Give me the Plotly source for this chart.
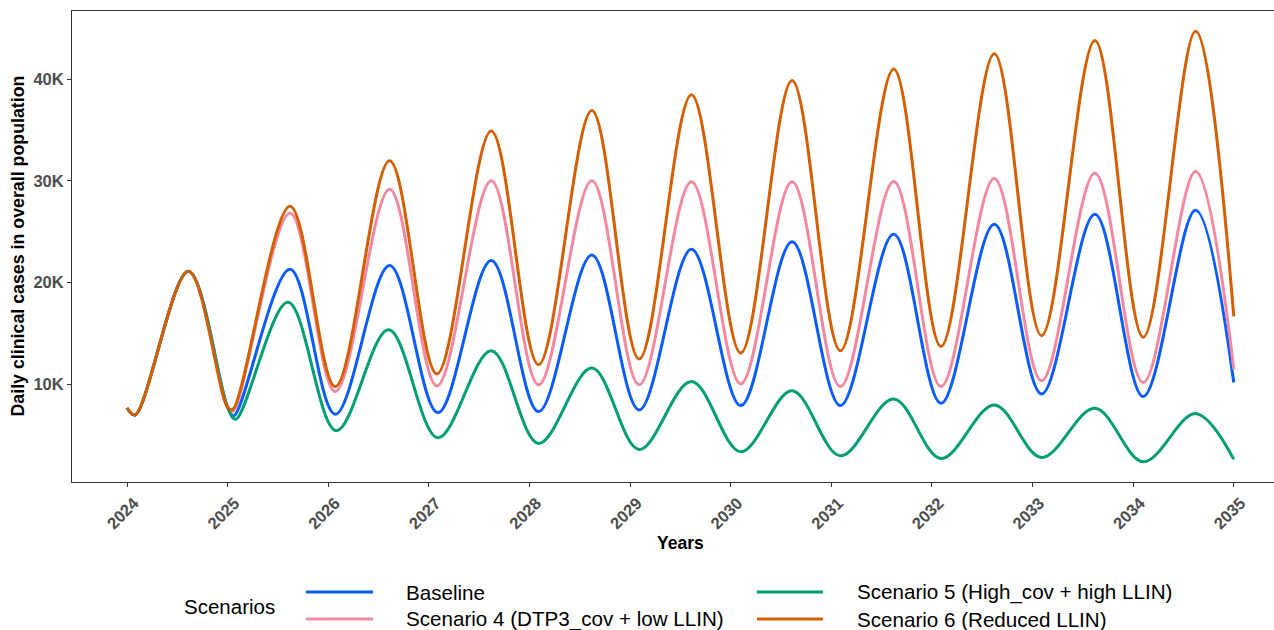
import plotly.graph_objects as go

# ---------------- data ----------------
shared_x = [2024.0, 2024.08, 2024.61, 2025.0]
shared_y = [7650, 6960, 21100, 7700]

baseline_x = [2025.06, 2025.62, 2026.07, 2026.61, 2027.09, 2027.62, 2028.09, 2028.62,
              2029.09, 2029.61, 2030.10, 2030.61, 2031.09, 2031.62, 2032.09, 2032.62,
              2033.09, 2033.62, 2034.10, 2034.62, 2035.0]
baseline_y = [6860, 21300, 7030, 21670, 7190, 22160, 7290, 22690, 7450, 23250, 7880, 24000,
              7880, 24730, 8110, 25720, 9030, 26700, 8770, 27100, 10150]

s4_x = [2025.05, 2025.62, 2026.07, 2026.61, 2027.08, 2027.62, 2028.09, 2028.62,
        2029.09, 2029.61, 2030.10, 2030.61, 2031.09, 2031.62, 2032.09, 2032.62,
        2033.09, 2033.62, 2034.10, 2034.62, 2035.0]
s4_y = [7300, 26800, 9260, 29170, 9820, 29990, 9920, 29990, 9920, 29900, 10020, 29900,
        9760, 29930, 9760, 30230, 10320, 30750, 10150, 30900, 11470]

s5_x = [2025.08, 2025.60, 2026.08, 2026.60, 2027.09, 2027.62, 2028.09, 2028.62,
        2029.09, 2029.61, 2030.10, 2030.61, 2031.09, 2031.62, 2032.09, 2032.62,
        2033.09, 2033.62, 2034.10, 2034.62, 2035.0]
s5_y = [6530, 18050, 5410, 15350, 4720, 13280, 4160, 11570, 3570, 10250, 3340, 9330,
        2940, 8540, 2680, 7950, 2780, 7620, 2350, 7100, 2590]

s6_x = [2025.05, 2025.62, 2026.07, 2026.61, 2027.08, 2027.62, 2028.09, 2028.62,
        2029.09, 2029.61, 2030.10, 2030.61, 2031.09, 2031.62, 2032.09, 2032.62,
        2033.09, 2033.62, 2034.10, 2034.62, 2035.0]
s6_y = [7500, 27500, 9750, 31960, 11000, 34900, 11900, 36900, 12460, 38450, 13050, 39860,
        13280, 41000, 13700, 42500, 14760, 43800, 14600, 44700, 16660]

names = ["Baseline", "Scenario 4 (DTP3_cov + low LLIN)",
         "Scenario 5 (High_cov + high LLIN)", "Scenario 6 (Reduced LLIN)"]
colors = ["#0B5CFF", "#F4889F", "#009E73", "#D55E00"]
series_x = [baseline_x, s4_x, s5_x, s6_x]
series_y = [baseline_y, s4_y, s5_y, s6_y]

year_ticks = list(range(2024, 2036))
y_ticks = [10000, 20000, 30000, 40000]
y_tick_text = ["10K", "20K", "30K", "40K"]

# ---------------- layout helpers ----------------
W, H = 1274, 630
L, R, T, B = 72, 1274, 11, 482


def px_x(p):
    return (p - L) / (R - L)


def px_y(p):
    return (B - p) / (B - T)


fig = go.Figure()
for name, col, xs, ys in zip(names, colors, series_x, series_y):
    fig.add_trace(go.Scatter(
        x=shared_x + xs, y=shared_y + ys, mode="lines", name=name,
        line=dict(color=col, width=3, shape="spline", smoothing=1.0),
        showlegend=False,
    ))

axis_font = dict(family="Liberation Sans, Arial, sans-serif", size=16.5,
                 color="#4D4D4D", weight="bold")

fig.update_layout(
    width=W, height=H,
    margin=dict(l=L, r=W - R, t=T, b=H - B),
    paper_bgcolor="white", plot_bgcolor="white",
    font=dict(family="Liberation Sans, Arial, sans-serif"),
    xaxis=dict(
        range=[2023.453, 2035.40], tickvals=year_ticks,
        ticktext=[str(v) for v in year_ticks], tickangle=-45,
        tickfont=axis_font, showgrid=False, zeroline=False,
        showline=True, linecolor="#333333", linewidth=1, mirror=True,
        ticks="outside", ticklen=4, tickcolor="#333333", tickwidth=1,
        ticklabelshift=7,
    ),
    yaxis=dict(
        range=[365, 46700], tickvals=y_ticks, ticktext=y_tick_text,
        tickfont=axis_font, showgrid=False, zeroline=False,
        showline=True, linecolor="#333333", linewidth=1, mirror=False,
        ticks="outside", ticklen=4, tickcolor="#333333", tickwidth=1,
    ),
    showlegend=False,
)

# axis titles
fig.add_annotation(text="Years", xref="paper", yref="paper",
                   x=px_x(680), y=px_y(543), showarrow=False,
                   font=dict(size=17.5, color="black", weight="bold"),
                   xanchor="center", yanchor="middle")
fig.add_annotation(text="Daily clinical cases in overall population",
                   xref="paper", yref="paper", x=px_x(17), y=0.5,
                   textangle=-90, showarrow=False,
                   font=dict(size=17.8, color="black", weight="bold"),
                   xanchor="center", yanchor="middle")

# manual legend
fig.add_annotation(text="Scenarios", xref="paper", yref="paper",
                   x=px_x(182), y=px_y(606), showarrow=False,
                   font=dict(size=20.5, color="black"),
                   xanchor="left", yanchor="middle")
key_pos = [(306, 373, 592), (306, 373, 619), (757, 823, 592), (757, 823, 619)]
text_pos = [(404, 592), (404, 619), (855, 592), (855, 619)]
for name, col, (kx0, kx1, ky), (tx, ty) in zip(names, colors, key_pos, text_pos):
    fig.add_shape(type="line", xref="paper", yref="paper",
                  x0=px_x(kx0), x1=px_x(kx1), y0=px_y(ky), y1=px_y(ky),
                  line=dict(color=col, width=3))
    fig.add_annotation(text=name, xref="paper", yref="paper",
                       x=px_x(tx), y=px_y(ty), showarrow=False,
                       font=dict(size=20.6, color="black"),
                       xanchor="left", yanchor="middle")

fig.write_html("out.html", config={"displayModeBar": False},
               post_script="document.body.style.margin='0';document.body.style.overflow='hidden';")
